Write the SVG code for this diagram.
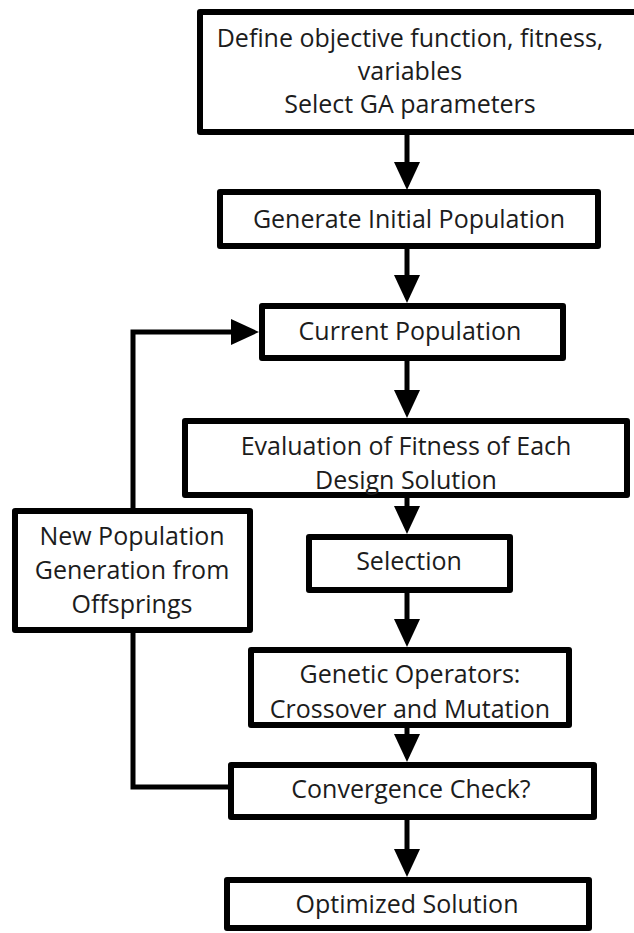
<svg xmlns="http://www.w3.org/2000/svg" width="634" height="933" viewBox="0 0 634 933">
<style>
.box{fill:#fff;stroke:#000;stroke-width:6;stroke-linejoin:round}
.lbl{font-family:"Open Sans","Noto Sans",sans-serif;font-size:25px;fill:#1c1c1c;text-anchor:middle}
.ln{fill:none;stroke:#000;stroke-width:5}
</style>
<defs>
<path id="ah" d="M0,0 L-13,-28 L13,-28 Z" fill="#000"/>
</defs>
<rect width="634" height="933" fill="#fff"/>
<g id="connectors">
<path class="ln" d="M407,135 V172"/><use href="#ah" transform="translate(407,190)"/>
<path class="ln" d="M407,249 V284"/><use href="#ah" transform="translate(407,303)"/>
<path class="ln" d="M407,360 V400"/><use href="#ah" transform="translate(407,418)"/>
<path class="ln" d="M407,498 V516"/><use href="#ah" transform="translate(407,534)"/>
<path class="ln" d="M407,593 V630"/><use href="#ah" transform="translate(407,647)"/>
<path class="ln" d="M407,728 V744"/><use href="#ah" transform="translate(407,762)"/>
<path class="ln" d="M407,820 V859"/><use href="#ah" transform="translate(407,877)"/>
<path class="ln" d="M228,787 H133 V332 H241"/><use href="#ah" transform="translate(259,332) rotate(-90)"/>
</g>
<g id="define">
<rect class="box" x="200" y="12" width="440" height="120"/>
<text class="lbl" x="410" y="47">Define objective function, fitness,</text>
<text class="lbl" x="410" y="80">variables</text>
<text class="lbl" x="410" y="113">Select GA parameters</text>
</g>
<g id="initial">
<rect class="box" x="220" y="192" width="378" height="54"/>
<text class="lbl" x="409" y="228">Generate Initial Population</text>
</g>
<g id="current">
<rect class="box" x="262" y="306" width="301" height="52"/>
<text class="lbl" x="410" y="340">Current Population</text>
</g>
<g id="evaluation">
<rect class="box" x="185" y="421" width="442" height="74"/>
<text class="lbl" x="406" y="455">Evaluation of Fitness of Each</text>
<text class="lbl" x="406" y="489">Design Solution</text>
</g>
<g id="selection">
<rect class="box" x="309" y="537" width="201" height="53"/>
<text class="lbl" x="409" y="570">Selection</text>
</g>
<g id="newpop">
<rect class="box" x="15" y="511" width="235" height="119"/>
<text class="lbl" x="132" y="545">New Population</text>
<text class="lbl" x="132" y="579">Generation from</text>
<text class="lbl" x="132" y="613">Offsprings</text>
</g>
<g id="genetic">
<rect class="box" x="251" y="650" width="318" height="75"/>
<text class="lbl" x="410" y="683">Genetic Operators:</text>
<text class="lbl" x="410" y="718">Crossover and Mutation</text>
</g>
<g id="convergence">
<rect class="box" x="231" y="765" width="363" height="52"/>
<text class="lbl" x="411" y="798">Convergence Check?</text>
</g>
<g id="optimized">
<rect class="box" x="227" y="880" width="362" height="48"/>
<text class="lbl" x="407" y="913">Optimized Solution</text>
</g>
</svg>
